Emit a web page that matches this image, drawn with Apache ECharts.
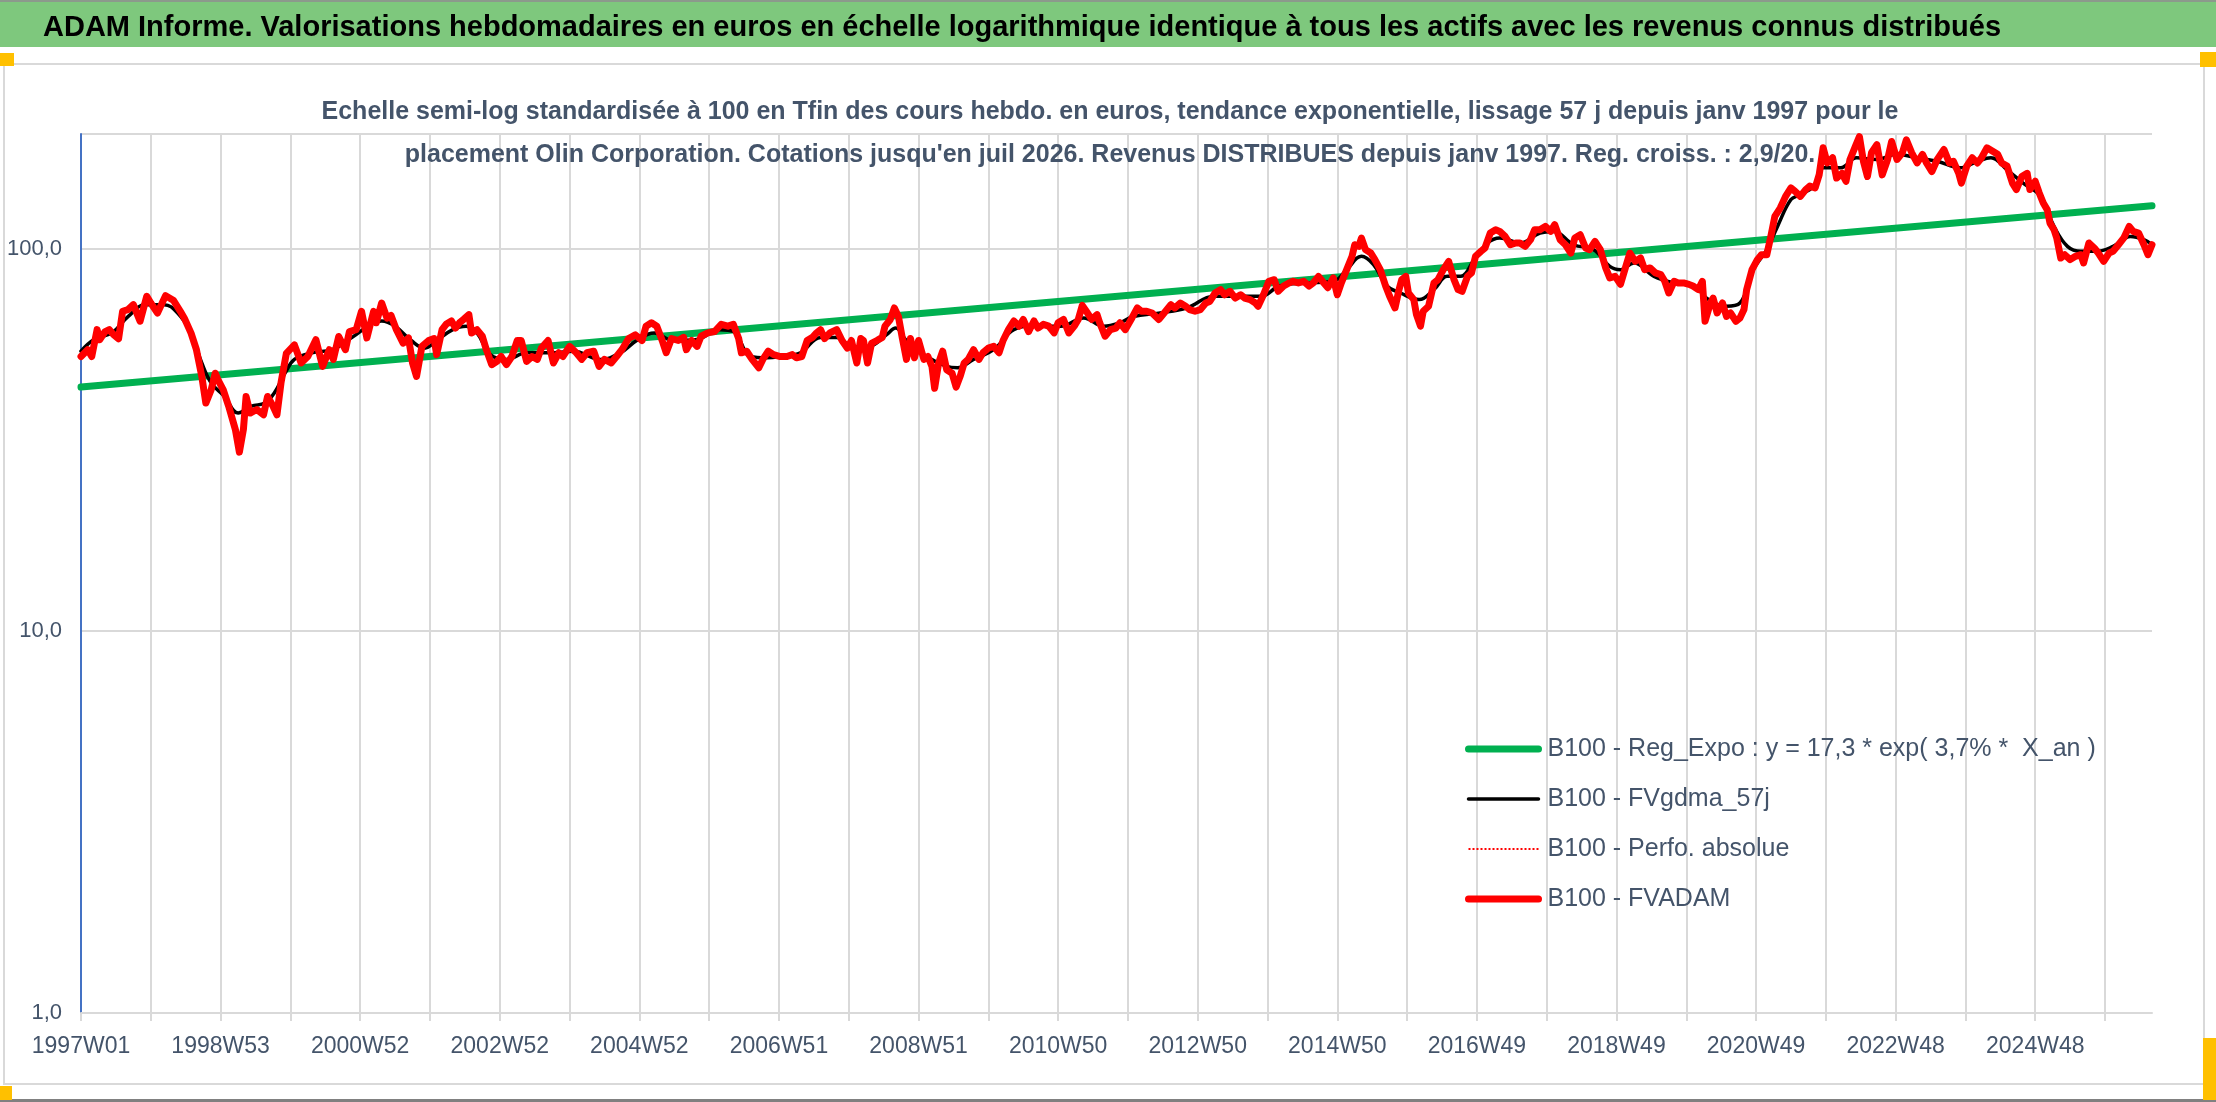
<!DOCTYPE html>
<html>
<head>
<meta charset="utf-8">
<script src="https://cdn.jsdelivr.net/npm/echarts@6/dist/echarts.min.js"></script>
<style>
html,body{margin:0;padding:0;background:#fff;}
#chart{width:2216px;height:1102px;}
</style>
</head>
<body>
<div id="chart"></div>
<script>
// ---- categories: ISO weeks from 1997W01 (1544 weeks, up to juil 2026)
const N_WEEKS = 1544;
const categories = [];
(function(){
  const start = Date.UTC(1996, 11, 30); // Monday of 1997W01
  for (let i = 0; i < N_WEEKS; i++) {
    const thu = new Date(start + (i * 7 + 3) * 86400000);
    const y = thu.getUTCFullYear();
    const ys = Date.UTC(y, 0, 1);
    const w = Math.ceil(((thu - ys) / 86400000 + 1) / 7);
    categories.push(y + 'W' + String(w).padStart(2, '0'));
  }
})();

const yTickValues = [1, 10, 100];

// ---- B100 - Reg_Expo (exponential trend, straight in log scale): endpoints
const regExpo = [[0, 43.5], [1543, 129.8]];

// ---- B100 - FVgdma_57j (smoothed)
const fvgdma = [[0,54],[10,58],[23,60.3],[35,66.5],[48,71.5],[62,71.5],[72,68.0],[82,60.3],[90,50.3],[97,44.6],[107,41.1],[117,37.2],[127,38.8],[137,39.5],[144,42.0],[152,47.3],[159,51.4],[172,53.5],[187,54.5],[202,58.7],[216,63.5],[224,64.8],[234,62.8],[246,57.6],[256,55.0],[265,57.6],[277,61.5],[287,62.8],[295,60.3],[305,52.9],[317,51.4],[332,53.5],[352,53.5],[367,54.0],[387,51.4],[402,53.5],[414,57.6],[427,60.3],[441,57.6],[459,58.0],[476,61.5],[486,60.8],[499,52.3],[511,51.9],[521,52.3],[536,53.5],[551,58.7],[563,58.7],[576,55.0],[588,55.6],[600,59.6],[607,62.1],[615,57.6],[630,52.3],[645,49.3],[653,48.9],[665,51.4],[680,54.5],[695,61.5],[710,62.8],[730,62.8],[747,66.0],[762,62.8],[774,64.1],[784,66.6],[804,68.0],[824,70.1],[844,75.2],[864,75.2],[879,75.2],[893,80.0],[913,81.5],[933,82.3],[943,88.3],[954,95.7],[963,91.0],[973,80.0],[983,76.7],[997,73.7],[1008,78.3],[1018,84.8],[1028,84.8],[1038,93.8],[1048,103.7],[1057,106.9],[1072,103.7],[1087,110.1],[1097,111.2],[1112,102.6],[1127,99.6],[1139,90.1],[1147,88.3],[1157,91.9],[1172,84.8],[1187,81.5],[1202,80.0],[1211,74.4],[1226,70.8],[1236,72.2],[1246,88.3],[1256,99.6],[1264,114.6],[1274,134.7],[1281,138.7],[1291,146.1],[1298,163.2],[1311,163.2],[1323,173.3],[1338,171.5],[1353,176.9],[1368,173.3],[1383,169.7],[1400,163.2],[1413,169.7],[1423,173.3],[1435,161.1],[1447,148.8],[1460,137.3],[1470,114.6],[1480,101.6],[1490,98.6],[1502,98.6],[1514,101.6],[1527,107.9],[1537,105.8],[1543,102.6]];

// ---- B100 - FVADAM (weekly valuation)
const fvadam = [[0,52.3],[5,54.5],[8,52.3],[12,61.5],[14,57.9],[18,60.8],[21,61.5],[24,59.8],[28,58.2],[31,68.7],[35,69.4],[39,71.5],[44,64.7],[49,75.2],[52,72.2],[57,68.0],[63,75.5],[69,73.3],[74,68.7],[77,65.9],[82,60.2],[86,54.5],[90,46.4],[93,39.5],[97,42.8],[100,47.3],[102,45.5],[106,42.8],[110,38.8],[115,33.7],[118,29.4],[121,33.7],[123,41.1],[126,37.2],[131,38.0],[136,36.8],[139,41.1],[143,38.8],[146,36.8],[149,44.6],[153,53.3],[159,56.1],[164,50.3],[169,52.3],[175,57.9],[180,49.3],[185,54.5],[188,51.4],[192,59.0],[197,54.5],[200,60.8],[205,61.5],[209,68.7],[213,58.5],[218,68.7],[220,64.1],[224,72.2],[228,65.9],[231,67.0],[235,61.5],[240,56.7],[244,58.5],[247,50.3],[250,46.4],
[254,55.6],[259,57.6],[263,58.3],[265,52.9],[269,61.5],[272,63.5],[276,64.8],[279,62.1],[282,64.1],[285,65.4],[289,67.3],[291,60.3],[295,61.5],[299,59.1],[302,54.5],[306,49.8],[310,50.8],[313,52.3],[317,49.8],[321,52.3],[325,57.6],[328,57.6],[332,50.8],[336,52.3],[340,51.4],[343,55.0],[348,57.6],[352,50.3],[356,53.5],[359,52.3],[364,55.6],[369,53.5],[373,51.4],[377,53.5],[382,54.0],[386,49.3],[390,51.4],[395,50.3],[399,52.3],[403,54.5],[408,58.3],[413,59.6],[418,57.6],[421,62.8],[425,64.1],[429,62.8],[433,57.6],[436,53.5],[440,58.3],[445,57.6],[449,58.7],[451,54.5],[455,57.6],[459,55.6],[462,59.1],[467,60.3],[472,60.8],[477,63.5],[482,62.8],[486,63.5],[490,58.3],[492,53.5],[496,54.0],[500,51.4],[505,48.9],[508,51.4],[512,54.0],[516,52.9],[521,52.3],
[526,52.3],[530,52.9],[533,51.9],[537,52.3],[541,57.6],[545,58.7],[548,60.3],[551,61.5],[554,58.3],[558,60.3],[563,61.5],[567,57.6],[571,55.0],[574,57.6],[578,50.3],[581,58.3],[583,57.6],[586,50.3],[589,56.6],[593,57.6],[597,58.7],[599,62.8],[603,65.4],[606,70.1],[609,66.6],[612,58.3],[615,51.4],[618,58.3],[621,51.9],[624,57.6],[628,51.4],[631,52.3],[634,49.3],[636,43.2],[639,50.3],[642,54.0],[645,48.3],[649,47.3],[652,43.5],[655,46.4],[658,50.3],[661,51.4],[665,54.5],[669,51.4],[672,53.5],[676,55.0],[680,55.6],[684,53.5],[687,57.6],[691,61.5],[695,64.8],[699,62.8],[702,65.4],[706,60.8],[710,64.8],[713,62.1],[717,63.5],[721,62.8],[725,60.3],[728,64.1],[732,65.4],[736,60.3],[740,62.8],[743,65.4],[746,71.2],[749,68.7],[753,65.4],[757,67.3],[759,64.1],[763,59.1],[767,61.5],[771,62.1],[774,64.1],
[778,61.5],[783,66.0],[787,70.1],[790,68.7],[794,68.7],[798,68.0],[803,65.4],[807,68.0],[812,71.5],[815,70.1],[819,72.2],[823,70.8],[826,69.4],[830,68.7],[834,69.4],[838,72.2],[841,72.9],[845,76.7],[849,78.3],[852,75.9],[856,77.5],[860,74.4],[864,75.9],[867,74.4],[871,73.7],[875,72.2],[877,70.8],[881,75.9],[885,82.3],[889,83.1],[892,77.5],[896,80.0],[900,81.5],[903,82.3],[907,81.5],[911,82.3],[915,80.0],[918,81.5],[922,84.8],[926,81.5],[929,79.2],[933,84.0],[936,75.9],[939,81.5],[943,88.3],[947,95.7],[949,102.6],[952,101.6],[954,106.8],[957,99.6],[961,97.6],[964,93.8],[968,88.3],[972,80.0],[975,75.2],[979,70.1],[982,78.3],[984,83.1],[987,84.8],[989,76.7],[993,73.7],[995,67.3],[998,62.8],[1000,68.7],[1004,70.8],[1008,81.5],[1011,83.1],[1015,88.3],[1019,92.8],[1023,83.1],[1026,78.3],
[1029,77.5],[1033,84.8],[1036,86.6],[1039,95.7],[1043,98.6],[1046,100.6],[1050,110.1],[1054,112.3],[1057,111.2],[1061,107.9],[1065,102.6],[1069,103.7],[1072,103.7],[1076,101.6],[1080,105.8],[1083,112.3],[1087,112.3],[1091,114.6],[1095,111.2],[1098,115.8],[1102,105.8],[1106,102.6],[1110,97.6],[1113,106.9],[1117,109.0],[1121,100.6],[1124,99.6],[1128,104.7],[1132,99.6],[1136,89.2],[1139,84.0],[1143,84.8],[1147,80.8],[1151,90.1],[1154,97.6],[1158,92.8],[1162,94.7],[1165,88.3],[1169,89.2],[1173,86.6],[1177,85.7],[1180,82.3],[1183,76.7],[1187,82.3],[1190,81.5],[1194,81.5],[1198,80.8],[1201,80.0],[1205,78.3],[1208,82.3],[1210,64.7],[1214,72.2],[1216,74.4],[1219,68.0],[1223,72.2],[1226,66.6],[1229,68.0],[1233,64.7],[1236,66.0],[1239,69.4],[1241,78.3],[1245,88.3],[1249,93.8],[1252,96.6],[1256,96.6],[1259,107.9],[1262,121.7],[1266,128.0],[1270,137.3],[1274,144.5],[1277,141.6],[1281,137.3],
[1285,143.1],[1288,146.1],[1292,144.5],[1295,156.3],[1298,184.0],[1301,168.0],[1305,173.3],[1308,153.4],[1312,157.8],[1315,150.4],[1318,171.5],[1322,185.7],[1325,196.8],[1328,169.7],[1331,154.8],[1334,178.6],[1338,187.5],[1342,156.3],[1346,171.5],[1349,191.2],[1353,171.5],[1357,178.6],[1360,193.0],[1364,178.6],[1368,168.0],[1372,176.9],[1375,168.0],[1379,159.5],[1383,171.5],[1388,182.1],[1392,168.0],[1395,169.7],[1399,157.8],[1401,148.8],[1405,164.8],[1409,173.3],[1413,168.0],[1416,173.3],[1420,184.0],[1424,180.4],[1428,176.9],[1431,168.0],[1435,164.8],[1439,148.8],[1442,143.1],[1446,154.8],[1450,157.8],[1452,143.1],[1456,150.4],[1459,140.2],[1462,131.9],[1465,126.6],[1467,116.9],[1470,112.3],[1472,106.9],[1475,94.7],[1478,96.6],[1482,93.8],[1486,95.7],[1490,96.6],[1492,91.9],[1496,103.7],[1500,100.6],[1503,97.6],[1507,92.8],[1511,97.6],[1514,98.6],[1518,102.6],[1522,106.9],[1526,114.6],[1529,111.2],[1533,110.1],[1537,102.6],[1540,96.6],[1543,102.6]];

// ---- B100 - Perfo. absolue (hidden under FVADAM in the picture)
const perfoAbsolue = fvadam;

const seriesNames = [
  'B100 - Reg_Expo : y = 17,3 * exp( 3,7% *  X_an )',
  'B100 - FVgdma_57j',
  'B100 - Perfo. absolue',
  'B100 - FVADAM'
];

const titleText = 'ADAM Informe. Valorisations hebdomadaires en euros en échelle logarithmique identique à tous les actifs avec les revenus connus distribués';
const subtitleText = "Echelle semi-log standardisée à 100 en Tfin des cours hebdo. en euros, tendance exponentielle, lissage 57 j depuis janv 1997 pour le\nplacement Olin Corporation. Cotations jusqu'en juil 2026. Revenus DISTRIBUES depuis janv 1997. Reg. croiss. : 2,9/20.";

const FONT = "'Liberation Sans', Arial, sans-serif";
const TXT = '#44546A';
const GRID = '#D9D9D9';

const chart = echarts.init(document.getElementById('chart'), null, {renderer: 'canvas'});
chart.setOption({
  animation: false,
  backgroundColor: '#ffffff',
  textStyle: {fontFamily: FONT},
  graphic: [
    {type: 'rect', z: -10, shape: {x: 0, y: 0, width: 2216, height: 47}, style: {fill: '#7EC87D'}},
    {type: 'rect', z: -9, shape: {x: 0, y: 0, width: 2216, height: 2}, style: {fill: '#8C9A8C'}},
    {type: 'rect', z: -10, shape: {x: 4, y: 64, width: 2200, height: 1020}, style: {fill: '#ffffff', stroke: '#D9D9D9', lineWidth: 2}},
    {type: 'rect', z: -9, shape: {x: 0, y: 1099, width: 2216, height: 3}, style: {fill: '#808080'}},
    {type: 'rect', z: -8, shape: {x: 0, y: 53, width: 14, height: 13}, style: {fill: '#FFC000'}},
    {type: 'rect', z: -8, shape: {x: 2200, y: 52, width: 16, height: 15}, style: {fill: '#FFC000'}},
    {type: 'rect', z: -8, shape: {x: 0, y: 1086, width: 12, height: 14}, style: {fill: '#FFC000'}},
    {type: 'rect', z: -8, shape: {x: 2203, y: 1038, width: 13, height: 62}, style: {fill: '#FFC000'}}
  ],
  title: [
    {text: titleText, left: 38, top: 8,
     textStyle: {fontFamily: FONT, fontSize: 29, fontWeight: 'bold', color: '#000000'}},
    {text: subtitleText, left: 1105, top: 86, textAlign: 'center',
     textStyle: {fontFamily: FONT, fontSize: 25, fontWeight: 'bold', color: TXT, lineHeight: 43, align: 'center'}}
  ],
  legend: {
    orient: 'vertical', left: 1460, top: 730,
    itemWidth: 70, itemHeight: 14, itemGap: 22,
    data: seriesNames,
    lineStyle: {width: 'inherit'},
    itemStyle: {opacity: 0},
    textStyle: {fontFamily: FONT, fontSize: 25, color: TXT, lineHeight: 28, padding: [0,0,0,4]},
    selectedMode: false
  },
  grid: {left: 81, right: 64, top: 134, bottom: 89, containLabel: false},
  xAxis: {
    type: 'category', data: categories, boundaryGap: false,
    axisLine: {show: true, lineStyle: {color: GRID, width: 2}},
    axisTick: {show: true, interval: 51, length: 8, lineStyle: {color: GRID, width: 2}},
    axisLabel: {interval: 103, margin: 22, fontFamily: FONT, fontSize: 23, color: TXT},
    splitLine: {show: true, interval: 51, lineStyle: {color: GRID, width: 2}}
  },
  yAxis: {
    type: 'log', logBase: 10, min: 1, max: 200, interval: 1,
    axisLine: {show: true, lineStyle: {color: '#4472C4', width: 2}},
    axisTick: {show: false},
    axisLabel: {margin: 19, fontFamily: FONT, fontSize: 22, color: TXT,
      formatter: v => (yTickValues.indexOf(Math.round(v)) >= 0 ? v.toFixed(1).replace('.', ',') : '')},
    splitLine: {show: true, lineStyle: {color: GRID, width: 2}}
  },
  series: [
    {name: seriesNames[0], type: 'line', data: regExpo, symbol: 'none', z: 2,
     lineStyle: {color: '#00B050', width: 7, cap: 'round'}, itemStyle: {color: '#00B050'}},
    {name: seriesNames[1], type: 'line', data: fvgdma, symbol: 'none', smooth: 0.4, z: 3,
     lineStyle: {color: '#000000', width: 3.5, cap: 'round'}, itemStyle: {color: '#000000'}},
    {name: seriesNames[2], type: 'line', data: perfoAbsolue, symbol: 'none', z: 4,
     lineStyle: {color: '#FF0000', width: 2, type: 'dotted'}, itemStyle: {color: '#FF0000'}},
    {name: seriesNames[3], type: 'line', data: fvadam, symbol: 'none', z: 5,
     lineStyle: {color: '#FF0000', width: 7, cap: 'round', join: 'round'}, itemStyle: {color: '#FF0000'}}
  ]
});
</script>
</body>
</html>
